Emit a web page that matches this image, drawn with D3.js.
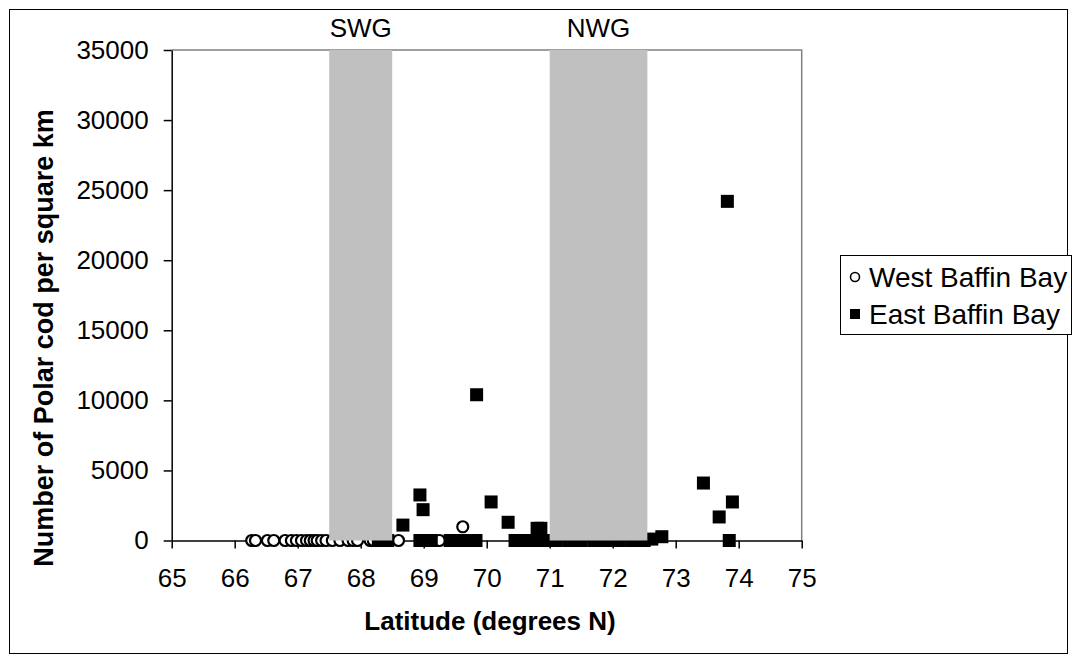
<!DOCTYPE html>
<html>
<head>
<meta charset="utf-8">
<script src="https://cdn.jsdelivr.net/npm/d3@7"></script>
<style>
  body { margin: 0; background: #fff; }
  svg { display: block; font-family: Arial, "Liberation Sans", sans-serif; }
</style>
</head>
<body>
<svg id="chart" width="1075" height="662"></svg>
<script>
// West Baffin Bay stations: latitude (deg N) and Polar cod density (per km2)
const westLat = [66.27, 66.33, 66.52, 66.62, 66.80, 66.90, 66.98, 67.06, 67.14, 67.20,
                 67.26, 67.31, 67.38, 67.45, 67.55, 67.67, 67.80, 67.88, 67.95, 68.15,
                 68.20, 68.60, 69.25, 69.62];
const westVal = [0, 0, 0, 0, 0, 0, 0, 0, 0, 0,
                 0, 0, 0, 0, 0, 0, 0, 0, 0, 0,
                 0, 0, 0, 980];

// East Baffin Bay stations
const eastLat = [68.28, 68.43, 68.67, 68.94, 68.94, 68.99, 69.03, 69.12, 69.42, 69.55,
                 69.70, 69.83, 69.84, 70.07, 70.34, 70.45, 70.60, 70.75, 70.80, 70.86,
                 70.90, 71.10, 71.30, 71.50, 71.70, 71.90, 72.10, 72.30, 72.50, 72.62,
                 72.78, 73.44, 73.69, 73.82, 73.85, 73.90];
const eastVal = [0, 0, 1100, 3250, 0, 2200, 0, 0, 0, 0,
                 0, 0, 10400, 2750, 1300, 0, 0, 0, 870, 870,
                 0, 0, 0, 0, 0, 0, 0, 0, 0, 100,
                 270, 4100, 1680, 24200, 0, 2750];

// Shaded regions (SWG, NWG)
const zoneNames = ["SWG", "NWG"];
const zoneFrom  = [67.5, 71.0];
const zoneTo    = [68.5, 72.55];

const latTicks = [65, 66, 67, 68, 69, 70, 71, 72, 73, 74, 75];
const densityTicks = [0, 5000, 10000, 15000, 20000, 25000, 30000, 35000];
const seriesNames = ["West Baffin Bay", "East Baffin Bay"];

const svg = d3.select("#chart");
const plot = { left: 171.7, right: 801.7, top: 50, bottom: 540.5 };

const x = d3.scaleLinear().domain([65, 75]).range([plot.left, plot.right]);
const y = d3.scaleLinear().domain([0, 35000]).range([plot.bottom, plot.top]);

// outer frame
svg.append("rect")
  .attr("x", 9.5).attr("y", 9.5).attr("width", 1058).attr("height", 644)
  .attr("fill", "#fff").attr("stroke", "#000").attr("stroke-width", 1);

// plot frame (top and right edges)
svg.append("path")
  .attr("d", `M${plot.left},${plot.top}H${plot.right}V${plot.bottom}`)
  .attr("fill", "none").attr("stroke", "#808080").attr("stroke-width", 1.5);

// axes
const xAxis = d3.axisBottom(x).tickValues(latTicks).tickFormat(d3.format("d"))
  .tickSizeInner(8).tickSizeOuter(0).tickPadding(20);
const yAxis = d3.axisLeft(y).tickValues(densityTicks).tickFormat(d3.format("d"))
  .tickSizeInner(8).tickSizeOuter(0).tickPadding(15);

const gx = svg.append("g").attr("transform", `translate(0,${plot.bottom})`).call(xAxis);
const gy = svg.append("g").attr("transform", `translate(${plot.left},0)`).call(yAxis);
[gx, gy].forEach(g => {
  g.select(".domain").attr("stroke", "#000").attr("stroke-width", 1.5);
  g.selectAll(".tick line").attr("stroke", "#000").attr("stroke-width", 1.5);
  g.selectAll(".tick text").attr("fill", "#000").style("font-size", "26px")
    .style("font-family", "Arial, 'Liberation Sans', sans-serif");
});

// West Baffin Bay: open circles
const west = westLat.map((d, i) => ({ lat: d, v: westVal[i] }));
svg.append("g").selectAll("circle").data(west).join("circle")
  .attr("cx", d => x(d.lat)).attr("cy", d => y(d.v)).attr("r", 5.5)
  .attr("fill", "#fff").attr("stroke", "#000").attr("stroke-width", 2.2);

// East Baffin Bay: filled squares
const east = eastLat.map((d, i) => ({ lat: d, v: eastVal[i] }));
const sq = 13;
svg.append("g").selectAll("rect").data(east).join("rect")
  .attr("x", d => x(d.lat) - sq / 2).attr("y", d => y(d.v) - sq / 2)
  .attr("width", sq).attr("height", sq).attr("fill", "#000");

// shaded bands on top
const zones = zoneNames.map((n, i) => ({ name: n, a: zoneFrom[i], b: zoneTo[i] }));
svg.append("g").selectAll("rect").data(zones).join("rect")
  .attr("x", d => x(d.a)).attr("width", d => x(d.b) - x(d.a))
  .attr("y", y(35000)).attr("height", y(0) - y(35000))
  .attr("fill", "#c0c0c0");
svg.append("g").selectAll("text").data(zones).join("text")
  .attr("x", d => (x(d.a) + x(d.b)) / 2).attr("y", 37)
  .attr("text-anchor", "middle").style("font-size", "26px").text(d => d.name);

// axis titles
svg.append("text")
  .attr("x", 490).attr("y", 630)
  .attr("text-anchor", "middle").style("font-size", "26px").style("font-weight", "bold")
  .text("Latitude (degrees N)");
svg.append("text")
  .attr("transform", "translate(53,338) rotate(-90)")
  .attr("text-anchor", "middle").style("font-size", "27px").style("font-weight", "bold")
  .text("Number of Polar cod per square km");

// legend
const lg = svg.append("g").attr("transform", "translate(840,255)");
lg.append("rect").attr("x", 0.5).attr("y", 0.5).attr("width", 231).attr("height", 79)
  .attr("fill", "#fff").attr("stroke", "#000").attr("stroke-width", 1);
const rows = lg.selectAll("g.row").data(seriesNames).join("g")
  .attr("class", "row").attr("transform", (d, i) => `translate(0,${22 + i * 37})`);
rows.filter((d, i) => i === 0).append("circle")
  .attr("cx", 15).attr("cy", 0).attr("r", 4.5)
  .attr("fill", "#fff").attr("stroke", "#000").attr("stroke-width", 1.6);
rows.filter((d, i) => i === 1).append("rect")
  .attr("x", 10).attr("y", -5).attr("width", 10).attr("height", 10).attr("fill", "#000");
rows.append("text").attr("x", 29).attr("y", 0).attr("dy", "0.35em")
  .style("font-size", "28px").text(d => d);
</script>
</body>
</html>
